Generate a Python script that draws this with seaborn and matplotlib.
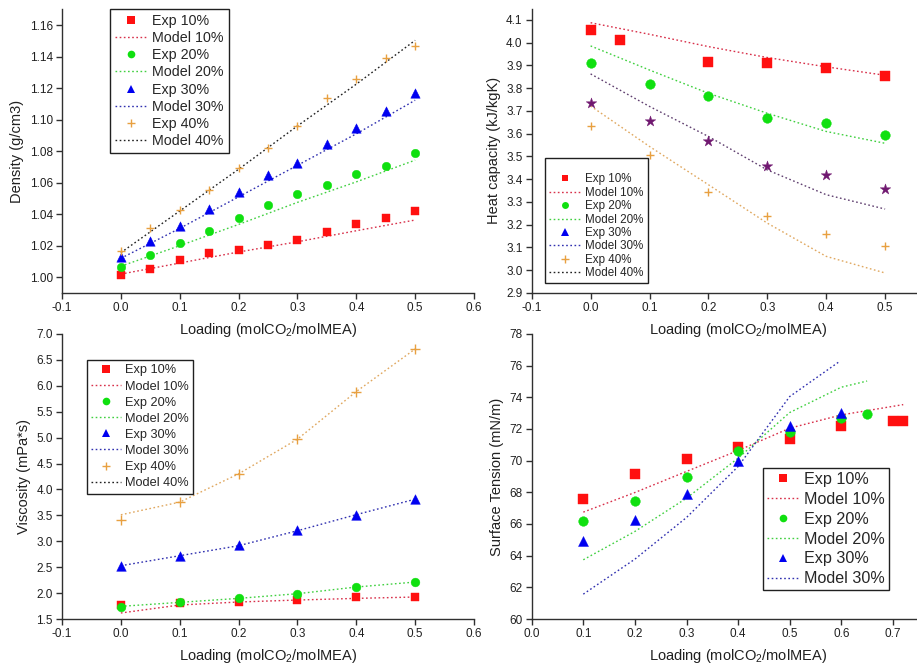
import numpy as np
import pandas as pd
import matplotlib
matplotlib.use("Agg")
import matplotlib.pyplot as plt
from matplotlib.lines import Line2D
from matplotlib.ticker import FormatStrFormatter
import seaborn as sns

# ---------------- data ----------------
# Density (g/cm3) vs CO2 loading
dens_x = [0.0, 0.05, 0.10, 0.15, 0.20, 0.25, 0.30, 0.35, 0.40, 0.45, 0.50]
dens_exp10 = [1.0015, 1.0055, 1.0108, 1.0156, 1.0175, 1.0207, 1.0236, 1.0285, 1.0338, 1.0378, 1.0418]
dens_exp20 = [1.0068, 1.0144, 1.0217, 1.0296, 1.0376, 1.0456, 1.0526, 1.0587, 1.0656, 1.0707, 1.0787]
dens_exp30 = [1.0131, 1.0232, 1.0327, 1.0435, 1.0538, 1.0646, 1.0726, 1.0847, 1.0948, 1.1057, 1.1167]
dens_exp40 = [1.0169, 1.0315, 1.0424, 1.0555, 1.0694, 1.0819, 1.0958, 1.1136, 1.1258, 1.1389, 1.1469]
dens_mx = [0.0, 0.1, 0.2, 0.3, 0.4, 0.5]
dens_mod10 = [1.0020, 1.0090, 1.0160, 1.0225, 1.0295, 1.0363]
dens_mod20 = [1.0070, 1.0200, 1.0335, 1.0475, 1.0605, 1.0743]
dens_mod30 = [1.0120, 1.0310, 1.0510, 1.0710, 1.0910, 1.1123]
dens_mod40 = [1.0156, 1.0420, 1.0685, 1.0960, 1.1225, 1.1503]

# Heat capacity (kJ/kgK)
cp_x10 = [0.0, 0.05, 0.2, 0.3, 0.4, 0.5]
cp_x = [0.0, 0.1, 0.2, 0.3, 0.4, 0.5]
cp_exp10 = [4.058, 4.012, 3.914, 3.911, 3.891, 3.854]
cp_exp20 = [3.910, 3.820, 3.765, 3.668, 3.646, 3.595]
cp_exp30 = [3.733, 3.654, 3.569, 3.456, 3.417, 3.359]
cp_exp40 = [3.632, 3.506, 3.342, 3.237, 3.159, 3.108]
cp_mod10 = [4.088, 4.037, 3.983, 3.935, 3.894, 3.857]
cp_mod20 = [3.986, 3.880, 3.778, 3.690, 3.610, 3.558]
cp_mod30 = [3.863, 3.720, 3.588, 3.441, 3.332, 3.269]
cp_mod40 = [3.722, 3.544, 3.376, 3.207, 3.061, 2.988]

# Viscosity (mPa*s)
visc_x = [0.0, 0.1, 0.2, 0.3, 0.4, 0.5]
visc_exp10 = [1.770, 1.802, 1.821, 1.873, 1.924, 1.924]
visc_exp20 = [1.725, 1.828, 1.905, 1.975, 2.117, 2.213]
visc_exp30 = [2.528, 2.721, 2.920, 3.209, 3.514, 3.819]
visc_exp40 = [3.402, 3.755, 4.301, 4.970, 5.889, 6.711]
visc_mod10 = [1.616, 1.770, 1.828, 1.866, 1.898, 1.924]
visc_mod20 = [1.744, 1.821, 1.898, 1.988, 2.117, 2.213]
visc_mod30 = [2.528, 2.721, 2.914, 3.203, 3.514, 3.812]
visc_mod40 = [3.511, 3.755, 4.301, 4.970, 5.889, 6.711]

# Surface tension (mN/m)
st_x10 = [0.1, 0.2, 0.3, 0.4, 0.5, 0.6, 0.70, 0.72]
st_exp10 = [67.57, 69.17, 70.09, 70.87, 71.38, 72.20, 72.49, 72.49]
st_x20 = [0.1, 0.2, 0.3, 0.4, 0.5, 0.6, 0.65]
st_exp20 = [66.18, 67.47, 68.98, 70.58, 71.84, 72.68, 72.97]
st_x30 = [0.1, 0.2, 0.3, 0.4, 0.5, 0.6]
st_exp30 = [64.92, 66.23, 67.91, 69.97, 72.20, 73.00]
st_mx10 = [0.1, 0.2, 0.3, 0.4, 0.5, 0.6, 0.65, 0.72]
st_mod10 = [66.75, 67.99, 69.32, 70.64, 72.05, 72.89, 73.16, 73.54]
st_mx20 = [0.1, 0.2, 0.3, 0.4, 0.5, 0.6, 0.65]
st_mod20 = [63.74, 65.53, 67.63, 70.16, 73.04, 74.64, 75.03]
st_mx30 = [0.1, 0.2, 0.3, 0.4, 0.5, 0.595]
st_mod30 = [61.57, 63.78, 66.41, 69.63, 74.05, 76.23]

series_labels = ["10%", "20%", "30%", "40%"]

# ---------------- style ----------------
sns.set_theme(style="ticks")
plt.rcParams["font.family"] = ["Liberation Sans", "DejaVu Sans"]
plt.rcParams["mathtext.fontset"] = "custom"
plt.rcParams["mathtext.rm"] = "Liberation Sans"
plt.rcParams["mathtext.it"] = "Liberation Sans:italic"

RED = "#ff1010"
RED_L = "#d8304a"
GREEN = "#10e010"
GREEN_L = "#40d040"
BLUE = "#0000f0"
BLUE_L = "#3030b0"
ORANGE = "#e8a040"
ORANGE_L = "#e0a860"
BLACK_L = "#202020"
PURPLE = "#701870"
PURPLE_L = "#604070"

DOTS = (0, (1.2, 1.8))

fig = plt.figure(figsize=(9.17, 6.69), dpi=100)
W, H = 917.0, 669.0


def make_axes(left_px, top_px, right_px, bottom_px):
    ax = fig.add_axes([left_px / W, 1 - bottom_px / H,
                       (right_px - left_px) / W, (bottom_px - top_px) / H])
    ax.patch.set_visible(False)
    return ax


def style_axes(ax):
    sns.despine(ax=ax)
    for sp in ("left", "bottom"):
        ax.spines[sp].set_color("#303030")
        ax.spines[sp].set_linewidth(1.0)
    ax.tick_params(direction="out", length=4, width=1, color="#303030",
                   labelsize=8.5, labelcolor="#202020", pad=2.5)
    ax.set_xlabel("Loading (molCO$_2$/molMEA)", fontsize=10.5, color="#202020", labelpad=5)


def exp_points(ax, x, y, marker, color, size, lw=0.0):
    if marker == "+":
        sns.scatterplot(x=x, y=y, ax=ax, marker="+", color=color, s=size,
                        linewidth=lw, zorder=3)
    else:
        sns.scatterplot(x=x, y=y, ax=ax, marker=marker, color=color, s=size,
                        edgecolor=color, linewidth=0.3, zorder=3)


def model_line(ax, x, y, color):
    sns.lineplot(x=x, y=y, ax=ax, color=color, linewidth=1.0,
                 linestyle=DOTS, zorder=2)


def legend_handles(entries):
    hs = []
    for kind, spec in entries:
        if kind == "exp":
            marker, color, ms = spec
            if marker == "+":
                hs.append(Line2D([], [], linestyle="", marker="+", color=color,
                                 markersize=ms, markeredgewidth=1.0))
            else:
                hs.append(Line2D([], [], linestyle="", marker=marker, color=color,
                                 markersize=ms, markeredgewidth=0))
        else:
            hs.append(Line2D([], [], color=spec, linewidth=1.0, linestyle=DOTS))
    return hs


def add_legend(ax, handles, labels, x_px, y_px, fontsize, spacing, hlen,
               title_gap=None, bpad=0.35):
    leg = ax.legend(handles, labels, loc="upper left",
                    bbox_to_anchor=(x_px / W, 1 - y_px / H),
                    bbox_transform=fig.transFigure, borderaxespad=0,
                    frameon=True, fancybox=False, framealpha=1,
                    edgecolor="#202020", fontsize=fontsize,
                    labelspacing=spacing, handlelength=hlen, handletextpad=0.3,
                    borderpad=bpad,
                    title=(" " if title_gap else None),
                    title_fontsize=title_gap)
    leg.get_frame().set_linewidth(1.0)
    return leg


labels8 = []
for s in series_labels:
    labels8 += ["Exp " + s, "Model " + s]

std_entries = [("exp", ("s", RED, 5.5)), ("line", RED_L),
               ("exp", ("o", GREEN, 5.5)), ("line", GREEN_L),
               ("exp", ("^", BLUE, 6)), ("line", BLUE_L),
               ("exp", ("+", ORANGE, 6)), ("line", BLACK_L)]

# ---------------- density ----------------
ax1 = make_axes(62, 9.3, 474, 293)
model_line(ax1, dens_mx, dens_mod10, RED_L)
model_line(ax1, dens_mx, dens_mod20, GREEN_L)
model_line(ax1, dens_mx, dens_mod30, BLUE_L)
model_line(ax1, dens_mx, dens_mod40, BLACK_L)
exp_points(ax1, dens_x, dens_exp10, "s", RED, 36)
exp_points(ax1, dens_x, dens_exp20, "o", GREEN, 38)
exp_points(ax1, dens_x, dens_exp30, "^", BLUE, 46)
exp_points(ax1, dens_x, dens_exp40, "+", ORANGE, 40, lw=1.0)
ax1.set_xlim(-0.1, 0.6)
ax1.set_ylim(0.99, 1.17)
ax1.set_xticks(np.arange(-0.1, 0.61, 0.1))
ax1.set_yticks(np.arange(1.00, 1.161, 0.02))
ax1.xaxis.set_major_formatter(FormatStrFormatter("%.1f"))
ax1.yaxis.set_major_formatter(FormatStrFormatter("%.2f"))
style_axes(ax1)
ax1.set_ylabel("Density (g/cm3)", fontsize=10.5, color="#202020", labelpad=4)
add_legend(ax1, legend_handles(std_entries), labels8, 110, 9, 10.3, 0.22, 2.3)

# ---------------- heat capacity ----------------
ax2 = make_axes(531.7, 8.6, 944, 293)
model_line(ax2, cp_x, cp_mod10, RED_L)
model_line(ax2, cp_x, cp_mod20, GREEN_L)
model_line(ax2, cp_x, cp_mod30, PURPLE_L)
model_line(ax2, cp_x, cp_mod40, ORANGE_L)
exp_points(ax2, cp_x10, cp_exp10, "s", RED, 48)
exp_points(ax2, cp_x, cp_exp20, "o", GREEN, 48)
exp_points(ax2, cp_x, cp_exp30, "*", PURPLE, 64)
exp_points(ax2, cp_x, cp_exp40, "+", ORANGE, 40, lw=1.0)
ax2.set_xlim(-0.1, 0.6)
ax2.set_ylim(2.9, 4.15)
ax2.set_xticks(np.arange(-0.1, 0.51, 0.1))
ax2.set_yticks(np.arange(2.9, 4.101, 0.1))
ax2.xaxis.set_major_formatter(FormatStrFormatter("%.1f"))
ax2.yaxis.set_major_formatter(FormatStrFormatter("%.1f"))
style_axes(ax2)
ax2.set_ylabel("Heat capacity (kJ/kgK)", fontsize=10.5, color="#202020", labelpad=4)
cp_entries = [("exp", ("s", RED, 5)), ("line", RED_L),
              ("exp", ("o", GREEN, 5)), ("line", GREEN_L),
              ("exp", ("^", BLUE, 5.5)), ("line", BLUE_L),
              ("exp", ("+", ORANGE, 5.5)), ("line", BLACK_L)]
add_legend(ax2, legend_handles(cp_entries), labels8, 545, 158, 8.4, 0.12, 2.8, title_gap=7)

# ---------------- viscosity ----------------
ax3 = make_axes(62, 334, 474, 619)
model_line(ax3, visc_x, visc_mod10, RED_L)
model_line(ax3, visc_x, visc_mod20, GREEN_L)
model_line(ax3, visc_x, visc_mod30, BLUE_L)
model_line(ax3, visc_x, visc_mod40, ORANGE_L)
exp_points(ax3, visc_x, visc_exp10, "s", RED, 40)
exp_points(ax3, visc_x, visc_exp20, "o", GREEN, 40)
exp_points(ax3, visc_x, visc_exp30, "^", BLUE, 48)
exp_points(ax3, visc_x, visc_exp40, "+", ORANGE, 44, lw=1.0)
ax3.set_xlim(-0.1, 0.6)
ax3.set_ylim(1.5, 7.0)
ax3.set_xticks(np.arange(-0.1, 0.61, 0.1))
ax3.set_yticks(np.arange(1.5, 7.01, 0.5))
ax3.xaxis.set_major_formatter(FormatStrFormatter("%.1f"))
ax3.yaxis.set_major_formatter(FormatStrFormatter("%.1f"))
style_axes(ax3)
ax3.set_ylabel("Viscosity (mPa*s)", fontsize=10.5, color="#202020", labelpad=4)
add_legend(ax3, legend_handles(std_entries), labels8, 87, 360, 9.2, 0.32, 2.3)

# ---------------- surface tension ----------------
ax4 = make_axes(531.7, 334, 944.5, 619)
model_line(ax4, st_mx10, st_mod10, RED_L)
model_line(ax4, st_mx20, st_mod20, GREEN_L)
model_line(ax4, st_mx30, st_mod30, BLUE_L)
exp_points(ax4, st_x10, st_exp10, "s", RED, 48)
exp_points(ax4, st_x20, st_exp20, "o", GREEN, 48)
exp_points(ax4, st_x30, st_exp30, "^", BLUE, 52)
ax4.set_xlim(0.0, 0.8)
ax4.set_ylim(60, 78)
ax4.set_xticks(np.arange(0.0, 0.71, 0.1))
ax4.set_yticks(np.arange(60, 78.1, 2))
ax4.xaxis.set_major_formatter(FormatStrFormatter("%.1f"))
ax4.yaxis.set_major_formatter(FormatStrFormatter("%d"))
style_axes(ax4)
ax4.set_ylabel("Surface Tension (mN/m)", fontsize=10.5, color="#202020", labelpad=4)
st_entries = std_entries[:6]
add_legend(ax4, legend_handles(st_entries), labels8[:6], 763, 468, 11.6, 0.3, 2.0,
           bpad=0.25)

fig.savefig("out.png", dpi=100)
